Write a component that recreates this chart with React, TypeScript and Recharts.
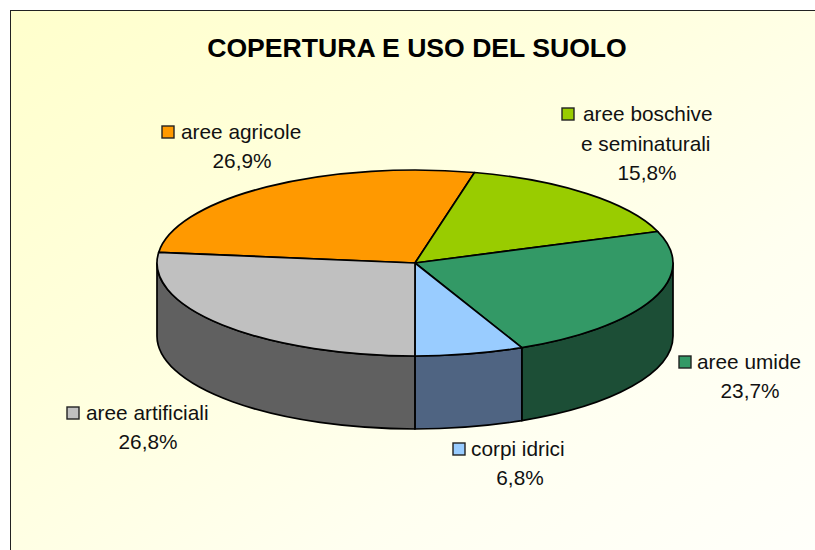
import { PieChart, Pie } from 'recharts';

const categories = ['aree agricole', 'aree boschive', 'aree umide', 'corpi idrici', 'aree artificiali'];
const shares = [26.9, 15.8, 23.7, 6.8, 26.8];
const shareLabels = ['26,9%', '15,8%', '23,7%', '6,8%', '26,8%'];
const extraLines = ['', 'e seminaturali', '', '', ''];
const topColors = ['#FF9900', '#99CC00', '#339966', '#99CCFF', '#C0C0C0'];
const wallColors = ['#7F4D00', '#4D6600', '#1C4E36', '#4F6482', '#606060'];

const rows = categories.map((name, i) => ({ name, value: shares[i] }));
const topRows = rows.map((r, i) => ({ ...r, fill: topColors[i] }));
const wallRows = rows.map((r, i) => ({ ...r, fill: wallColors[i] }));

const FONT = '"Liberation Sans", Arial, sans-serif';
const CX = 415;
const CY = 263;
const RX = 258;
const RY = 93;
const DEPTH = 73;
const START = 173.5;

// where each callout sits: key square left, first text baseline, centre of the percent line
const labelSpots = [
  { keyX: 162, textX: 181, base: 139, mid: 242 },
  { keyX: 562, textX: 583, base: 121, mid: 647 },
  { keyX: 679, textX: 697, base: 369, mid: 750 },
  { keyX: 453, textX: 471, base: 456, mid: 520 },
  { keyX: 67, textX: 86, base: 420, mid: 148 },
];

const px = (a: number) => CX + RX * Math.cos((a * Math.PI) / 180);
const py = (a: number) => CY - RY * Math.sin((a * Math.PI) / 180);

function TopSlice(props: any) {
  const { startAngle: s, endAngle: e, fill } = props;
  const large = Math.abs(s - e) > 180 ? 1 : 0;
  const d = `M${CX},${CY} L${px(s)},${py(s)} A${RX},${RY} 0 ${large} 1 ${px(e)},${py(e)} Z`;
  return <path d={d} fill={fill} stroke="#000" strokeWidth={1.7} strokeLinejoin="round" />;
}

// only the part of a slice facing the viewer gets a wall
function WallSlice(props: any) {
  const { startAngle, endAngle, fill } = props;
  const s = Math.min(startAngle, 0);
  const e = Math.max(endAngle, -180);
  if (s <= e) return <g />;
  const d =
    `M${px(s)},${py(s)} A${RX},${RY} 0 0 1 ${px(e)},${py(e)} ` +
    `L${px(e)},${py(e) + DEPTH} A${RX},${RY} 0 0 0 ${px(s)},${py(s) + DEPTH} Z`;
  return <path d={d} fill={fill} stroke="#000" strokeWidth={1.7} strokeLinejoin="round" />;
}

function Callout(props: any) {
  const i = props.index;
  const spot = labelSpots[i];
  const extra = extraLines[i];
  const shareBase = spot.base + (extra ? 59 : 29);
  return (
    <g fontFamily={FONT} fontSize={20.8} fill="#111">
      <rect x={spot.keyX} y={spot.base - 13} width={12} height={12} fill={topColors[i]} stroke="#222" strokeWidth={1.4} />
      <text x={spot.textX} y={spot.base}>{categories[i]}</text>
      {extra ? <text x={581} y={spot.base + 30}>{extra}</text> : null}
      <text x={spot.mid} y={shareBase} textAnchor="middle">{shareLabels[i]}</text>
    </g>
  );
}

export default function App() {
  return (
    <div style={{ position: 'absolute', left: 0, top: 0, width: 815, height: 550, background: '#fff', overflow: 'hidden' }}>
      <div
        style={{
          position: 'absolute',
          left: 10,
          top: 10,
          width: 805,
          height: 540,
          boxSizing: 'border-box',
          borderLeft: '1.5px solid #222',
          borderTop: '1.5px solid #222',
          background: 'linear-gradient(145deg, #FFFFCC 0%, #FFFFDC 35%, #FFFFF0 70%, #FFFFFA 100%)',
        }}
      />
      <div style={{ position: 'absolute', left: 0, top: 0 }}>
        <PieChart width={815} height={550} margin={{ top: 0, right: 0, bottom: 0, left: 0 }}>
          <text x={417} y={57} textAnchor="middle" fontFamily={FONT} fontSize={26.6} fontWeight="bold" fill="#000">
            COPERTURA E USO DEL SUOLO
          </text>
          <Pie
            data={wallRows}
            dataKey="value"
            cx={CX}
            cy={CY}
            outerRadius={RX}
            startAngle={START}
            endAngle={START - 360}
            shape={WallSlice}
            isAnimationActive={false}
            legendType="none"
          />
          <Pie
            data={topRows}
            dataKey="value"
            cx={CX}
            cy={CY}
            outerRadius={RX}
            startAngle={START}
            endAngle={START - 360}
            shape={TopSlice}
            label={Callout}
            labelLine={false}
            isAnimationActive={false}
          />
        </PieChart>
      </div>
    </div>
  );
}
